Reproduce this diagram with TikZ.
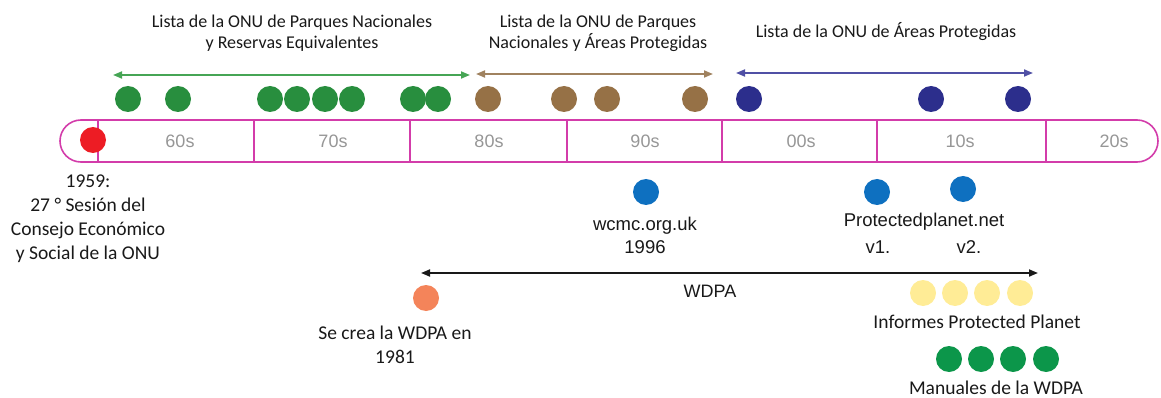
\documentclass[tikz,border=0pt]{standalone}
\usepackage{fontspec}
\setmainfont{Carlito}
\newfontfamily\arialf{Liberation Sans}
\usetikzlibrary{arrows.meta}
\definecolor{mag}{RGB}{211,60,170}
\definecolor{decgray}{RGB}{150,150,150}
\definecolor{txt}{RGB}{25,25,25}
\definecolor{dgreen}{RGB}{40,142,62}
\definecolor{dbrown}{RGB}{150,113,70}
\definecolor{dnavy}{RGB}{44,46,140}
\definecolor{agreen}{RGB}{70,165,85}
\definecolor{abrown}{RGB}{160,130,95}
\definecolor{anavy}{RGB}{80,80,165}
\definecolor{dred}{RGB}{237,28,36}
\definecolor{dorange}{RGB}{244,132,90}
\definecolor{dblue}{RGB}{14,112,192}
\definecolor{dyellow}{RGB}{255,236,150}
\definecolor{mgreen}{RGB}{12,150,74}
\tikzset{
  dot/.style={circle,fill=#1,inner sep=0pt,minimum size=26pt},
  decade/.style={font=\arialf\fontsize{18}{20}\selectfont,text=decgray},
  title/.style={font=\fontsize{18}{21}\selectfont,text=txt,align=center},
  lab/.style={font=\fontsize{19.5}{24}\selectfont,text=txt,align=center},
  alab/.style={font=\arialf\fontsize{18.5}{23}\selectfont,text=txt,align=center},
  span/.style={line width=1.8pt,draw=#1,{Triangle[length=9pt,width=7pt]}-{Triangle[length=9pt,width=7pt]}},
  barline/.style={draw=mag,line width=1.6pt}
}
\begin{document}
\begin{tikzpicture}[x=1pt,y=-1pt]
\useasboundingbox (0,0) rectangle (1161,398);
% timeline bar
\draw[barline,rounded corners=21pt] (60,120) rectangle (1158,162);
\foreach \x in {98,254,410,567,877,1046} \draw[barline] (\x,120) -- (\x,162);
\draw[draw=mag,line width=2.4pt] (722,120) -- (722,162);
\node[decade] (d60) at (180,141) {60s};
\node[decade] (d70) at (333,141) {70s};
\node[decade] (d80) at (489,141) {80s};
\node[decade] (d90) at (645,141) {90s};
\node[decade] (d00) at (801,141) {00s};
\node[decade] (d10) at (960,141) {10s};
\node[decade] (d20) at (1114,141) {20s};
\node[dot=dred] (r59) at (93,140) {};
% titles
\node[title] (t1) at (292,33) {Lista de la ONU de Parques Nacionales\\y Reservas Equivalentes};
\node[title] (t2) at (598,33) {Lista de la ONU de Parques\\Nacionales y Áreas Protegidas};
\node[title] (t3) at (886,32) {Lista de la ONU de Áreas Protegidas};
% span arrows
\coordinate (g1) at (113,75); \coordinate (g2) at (470,75);
\coordinate (b1) at (476,74); \coordinate (b2) at (713,74);
\coordinate (n1) at (736,73); \coordinate (n2) at (1033,73);
\draw[span=agreen] (g1) -- (g2);
\draw[span=abrown] (b1) -- (b2);
\draw[span=anavy] (n1) -- (n2);
% top dots
\foreach \x [count=\i] in {128,178,270,297,325,352,413,438} \node[dot=dgreen] (gd\i) at (\x,99) {};
\foreach \x [count=\i] in {488,564,607,695} \node[dot=dbrown] (bd\i) at (\x,99) {};
\foreach \x [count=\i] in {749,931,1018} \node[dot=dnavy] (nd\i) at (\x,99) {};
% 1959 label
\node[lab] (l59) at (88,219) {1959:\\27 ° Sesión del\\Consejo Económico\\y Social de la ONU};
% wcmc
\node[dot=dblue] (wc) at (646,192) {};
\node[alab] (wcl) at (645,235) {wcmc.org.uk\\1996};
% protected planet
\node[dot=dblue] (pp1) at (877,192) {};
\node[dot=dblue] (pp2) at (963,189) {};
\node[alab] (ppl) at (924,222) {Protectedplanet.net};
\node[alab] (v1) at (878,247) {v1.};
\node[alab] (v2) at (969,247) {v2.};
% WDPA arrow
\coordinate (w1) at (421,273); \coordinate (w2) at (1038,273);
\draw[line width=1.8pt,draw=txt,{Triangle[length=9pt,width=7pt]}-{Triangle[length=9pt,width=7pt]}] (w1) -- (w2);
\node[alab,font=\arialf\fontsize{18}{20}\selectfont] (wdpa) at (710,291) {WDPA};
% WDPA creation
\node[dot=dorange] (or) at (426,298) {};
\node[lab] (orl) at (395,345) {Se crea la WDPA en\\1981};
% reports
\foreach \x [count=\i] in {923,955,987,1020} \node[dot=dyellow] (yd\i) at (\x,293) {};
\node[lab] (inf) at (977,322) {Informes Protected Planet};
\foreach \x [count=\i] in {949,981,1013,1046} \node[dot=mgreen] (md\i) at (\x,359) {};
\node[lab] (man) at (996,388) {Manuales de la WDPA};
\end{tikzpicture}
\end{document}
